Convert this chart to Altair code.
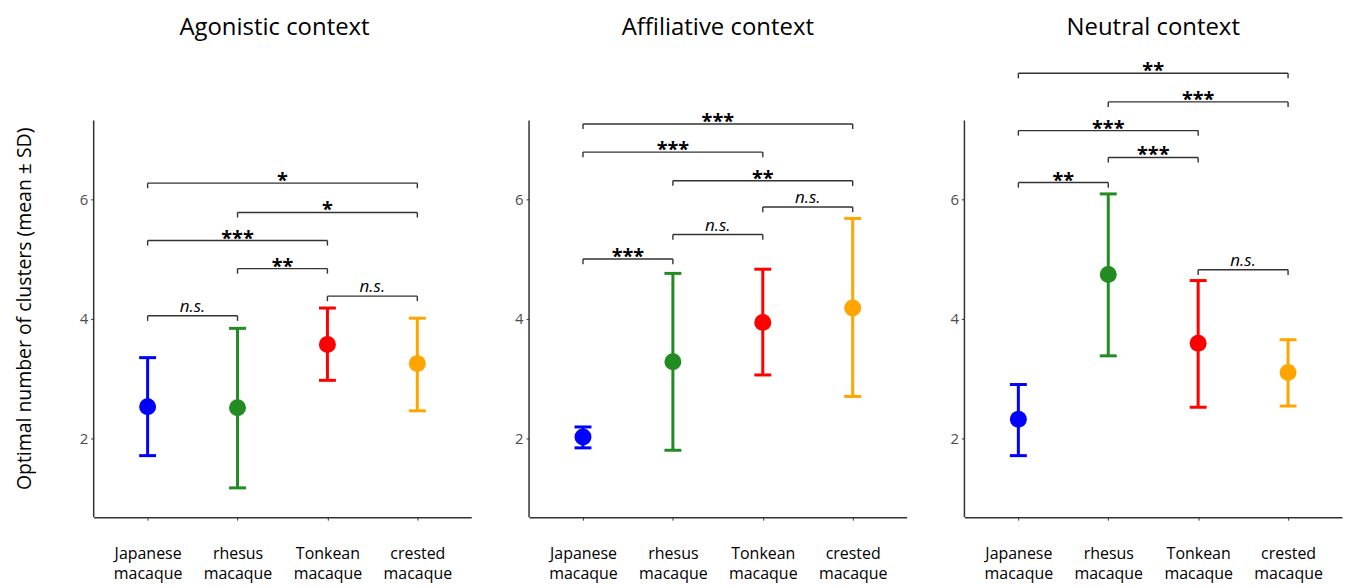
import json
import altair as alt
import pandas as pd

# ---------------- data ----------------
CATEGORIES = ["Japanese macaque", "rhesus macaque", "Tonkean macaque", "crested macaque"]
POSITIONS = [0, 1, 2, 3]
COLORS = ["#0000FF", "#228B22", "#FF0000", "#FFA500"]
PANEL_TITLES = ["Agonistic context", "Affiliative context", "Neutral context"]
Y_TITLE = "Optimal number of clusters (mean ± SD)"
Y_TICKS = [2, 4, 6]

AGO_MEAN = [2.53, 2.51, 3.57, 3.25]
AGO_LOW = [1.71, 1.17, 2.97, 2.46]
AGO_HIGH = [3.35, 3.84, 4.18, 4.01]

AFF_MEAN = [2.02, 3.28, 3.94, 4.18]
AFF_LOW = [1.84, 1.80, 3.06, 2.70]
AFF_HIGH = [2.19, 4.76, 4.83, 5.68]

NEU_MEAN = [2.32, 4.74, 3.59, 3.10]
NEU_LOW = [1.71, 3.38, 2.52, 2.54]
NEU_HIGH = [2.90, 6.09, 4.64, 3.65]

AGO_BR_FROM = [0, 2, 1, 0, 1, 0]
AGO_BR_TO = [1, 3, 2, 2, 3, 3]
AGO_BR_Y = [4.05, 4.38, 4.84, 5.31, 5.78, 6.27]
AGO_BR_LABEL = ["n.s.", "n.s.", "**", "***", "*", "*"]

AFF_BR_FROM = [0, 1, 2, 1, 0, 0]
AFF_BR_TO = [1, 2, 3, 3, 2, 3]
AFF_BR_Y = [5.00, 5.41, 5.87, 6.31, 6.79, 7.26]
AFF_BR_LABEL = ["***", "n.s.", "n.s.", "**", "***", "***"]

NEU_BR_FROM = [2, 0, 1, 0, 1, 0]
NEU_BR_TO = [3, 1, 2, 2, 3, 3]
NEU_BR_Y = [4.82, 6.28, 6.70, 7.15, 7.63, 8.11]
NEU_BR_LABEL = ["n.s.", "**", "***", "***", "***", "**"]

# ---------------- layout / style ----------------
FONT = "Open Sans"
X_MIN, X_MAX = -0.6, 3.6
Y_MIN, Y_MAX = 0.68, 8.5
Y_AXIS_TOP = 7.32
Y_TITLE_CENTER = 4.175
W, H = 379, 469
TIP = 0.085
LINE_COLOR = "#333333"


def make_panel(title, mean, low, high, bfrom, bto, by, blab, first):
    pts = pd.DataFrame({"pos": POSITIONS, "species": CATEGORIES,
                        "mean": mean, "low": low, "high": high})
    br = pd.DataFrame({"x1": bfrom, "x2": bto, "y": by, "label": blab})
    br["xm"] = (br["x1"] + br["x2"]) / 2
    br["ytip"] = br["y"] - TIP
    tips = pd.concat([
        br[["x1", "y", "ytip"]].rename(columns={"x1": "x"}),
        br[["x2", "y", "ytip"]].rename(columns={"x2": "x"}),
    ], ignore_index=True)
    yline = pd.DataFrame({"x": [X_MIN], "y1": [Y_MIN], "y2": [Y_AXIS_TOP]})

    xscale = alt.Scale(domain=[X_MIN, X_MAX], nice=False, zero=False)
    yscale = alt.Scale(domain=[Y_MIN, Y_MAX], nice=False, zero=False)
    label_expr = "split(" + json.dumps(CATEGORIES) + "[datum.value], ' ')"
    xaxis = alt.Axis(values=POSITIONS, labelExpr=label_expr, title=None,
                     labelFont=FONT, labelFontSize=16, labelColor="black",
                     labelBaseline="top", labelLineHeight=21, labelPadding=25,
                     tickSize=3, tickColor=LINE_COLOR, tickWidth=1,
                     domainColor=LINE_COLOR, domainWidth=1.5, grid=False,
                     labelAngle=0)
    ykw = dict(values=Y_TICKS, domain=False, grid=False, labelFont=FONT,
               labelFontSize=15, labelColor="#4D4D4D", labelPadding=3,
               tickSize=3, tickColor=LINE_COLOR, tickWidth=1, format="d")
    if first:
        yaxis = alt.Axis(title=Y_TITLE, titleX=-69,
                         titleY=(Y_MAX - Y_TITLE_CENTER) * H / (Y_MAX - Y_MIN),
                         titleBaseline="middle", titleAlign="center",
                         titleFont=FONT, titleFontSize=19.5, titleFontWeight="normal",
                         titleColor="black", **ykw)
    else:
        yaxis = alt.Axis(title=None, **ykw)

    def X(f):
        return alt.X(f, type="quantitative", scale=xscale, axis=xaxis)

    def Y(f):
        return alt.Y(f, type="quantitative", scale=yscale, axis=yaxis)

    color = alt.Color("species:N", scale=alt.Scale(domain=CATEGORIES, range=COLORS), legend=None)

    axis_line = alt.Chart(yline).mark_rule(color=LINE_COLOR, strokeWidth=1.5).encode(
        x=X("x"), y=Y("y1"), y2="y2")
    err = alt.Chart(pts).mark_rule(strokeWidth=3).encode(
        x=X("pos"), y=Y("low"), y2="high", color=color)
    cap_lo = alt.Chart(pts).mark_tick(orient="horizontal", size=17, thickness=3, opacity=1).encode(
        x=X("pos"), y=Y("low"), color=color)
    cap_hi = alt.Chart(pts).mark_tick(orient="horizontal", size=17, thickness=3, opacity=1).encode(
        x=X("pos"), y=Y("high"), color=color)
    dots = alt.Chart(pts).mark_circle(size=290, opacity=1).encode(
        x=X("pos"), y=Y("mean"), color=color)
    hbar = alt.Chart(br).mark_rule(color=LINE_COLOR, strokeWidth=1.4).encode(
        x=X("x1"), x2="x2", y=Y("y"))
    tip = alt.Chart(tips).mark_rule(color=LINE_COLOR, strokeWidth=1.4).encode(
        x=X("x"), y=Y("y"), y2="ytip")
    stars = alt.Chart(br).transform_filter(alt.datum.label != "n.s.").mark_text(
        font=FONT, fontSize=20, fontWeight="bold", baseline="alphabetic", dy=4,
        color="black").encode(x=X("xm"), y=Y("y"), text="label:N")
    ns = alt.Chart(br).transform_filter(alt.datum.label == "n.s.").mark_text(
        font=FONT, fontSize=17, fontStyle="italic", baseline="alphabetic", dy=-4,
        color="black").encode(x=X("xm"), y=Y("y"), text="label:N")

    return alt.layer(axis_line, err, cap_lo, cap_hi, dots, hbar, tip, stars, ns).properties(
        width=W, height=H,
        title=alt.TitleParams(text=title, font=FONT, fontSize=24, fontWeight="normal",
                              color="black", anchor="middle", frame="group",
                              offset=10, dx=-8 if first else 0))


p1 = make_panel(PANEL_TITLES[0], AGO_MEAN, AGO_LOW, AGO_HIGH,
                AGO_BR_FROM, AGO_BR_TO, AGO_BR_Y, AGO_BR_LABEL, True)
p2 = make_panel(PANEL_TITLES[1], AFF_MEAN, AFF_LOW, AFF_HIGH,
                AFF_BR_FROM, AFF_BR_TO, AFF_BR_Y, AFF_BR_LABEL, False)
p3 = make_panel(PANEL_TITLES[2], NEU_MEAN, NEU_LOW, NEU_HIGH,
                NEU_BR_FROM, NEU_BR_TO, NEU_BR_Y, NEU_BR_LABEL, False)

chart = alt.hconcat(p1, p2, p3, spacing=43).properties(
    padding={"left": 6, "top": 7, "right": 2, "bottom": 0},
    background="white",
).configure_view(stroke=None)

chart.save("out.html", embed_options={"renderer": "svg", "actions": False})
